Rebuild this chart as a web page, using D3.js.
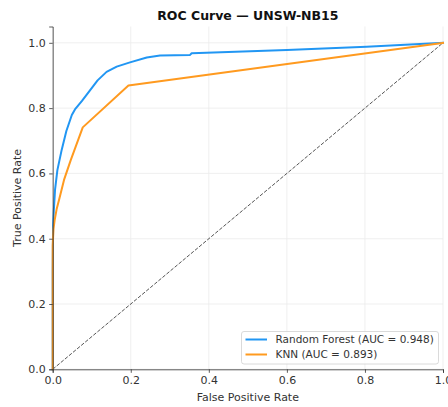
<!DOCTYPE html>
<html><head><meta charset="utf-8">
<script src="https://cdn.jsdelivr.net/npm/d3@7"></script>
<style>body{margin:0;background:#fff}svg{display:block}</style>
</head><body>
<script>
const title = "ROC Curve — UNSW-NB15";
const xLabel = "False Positive Rate";
const yLabel = "True Positive Rate";
const ticks = [0, 0.2, 0.4, 0.6, 0.8, 1.0];
const seriesNames = ["Random Forest (AUC = 0.948)", "KNN (AUC = 0.893)"];
const seriesColors = ["#2196F3", "#FF9A1F"];
const rfFpr = [0, 0, 0.001, 0.003, 0.006, 0.012, 0.023, 0.035, 0.049, 0.057, 0.075, 0.096, 0.115, 0.138, 0.164, 0.198, 0.241, 0.275, 0.352, 0.356, 0.6, 0.804, 1];
const rfTpr = [0, 0.3, 0.44, 0.49, 0.55, 0.61, 0.672, 0.73, 0.779, 0.796, 0.822, 0.855, 0.885, 0.911, 0.927, 0.94, 0.955, 0.961, 0.963, 0.968, 0.978, 0.988, 1];
const knnFpr = [0, 0, 0.002, 0.005, 0.01, 0.016, 0.029, 0.046, 0.077, 0.194, 1];
const knnTpr = [0, 0.38, 0.43, 0.457, 0.49, 0.518, 0.58, 0.64, 0.741, 0.869, 1];

const W = 448, H = 407;
const m = {l: 52.7, r: 5, t: 26.5, b: 37.7};
const svg = d3.select("body").append("svg").attr("width", W).attr("height", H)
  .style("font-family", "DejaVu Sans, sans-serif");
const x = d3.scaleLinear().domain([0, 1]).range([m.l, W - m.r]);
const y = d3.scaleLinear().domain([0, 1.05]).range([H - m.b, m.t]);

// grid
const g = svg.append("g");
g.selectAll(".gx").data(ticks).join("line")
  .attr("x1", d => x(d)).attr("x2", d => x(d)).attr("y1", y(0)).attr("y2", y(1.05))
  .attr("stroke", "#ebebeb").attr("stroke-width", 0.8);
g.selectAll(".gy").data(ticks).join("line")
  .attr("y1", d => y(d)).attr("y2", d => y(d)).attr("x1", x(0)).attr("x2", x(1))
  .attr("stroke", "#ebebeb").attr("stroke-width", 0.8);

// diagonal
svg.append("line").attr("x1", x(0)).attr("y1", y(0)).attr("x2", x(1)).attr("y2", y(1))
  .attr("stroke", "#555").attr("stroke-width", 1).attr("stroke-dasharray", "3.7,1.6");

const line = d3.line().x(d => x(d[0])).y(d => y(d[1]));
const series = [d3.zip(rfFpr, rfTpr), d3.zip(knnFpr, knnTpr)];
series.forEach((s, i) => {
  svg.append("path").datum(s).attr("d", line).attr("fill", "none")
    .attr("stroke", seriesColors[i]).attr("stroke-width", 2)
    .attr("stroke-linejoin", "round").attr("stroke-linecap", "square");
});

// axes
const fmt = d3.format(".1f");
const xa = svg.append("g").attr("transform", `translate(0,${y(0)})`)
  .call(d3.axisBottom(x).tickValues(ticks).tickFormat(fmt).tickSize(3.5).tickPadding(3.5));
const ya = svg.append("g").attr("transform", `translate(${x(0)},0)`)
  .call(d3.axisLeft(y).tickValues(ticks).tickFormat(fmt).tickSize(3.5).tickPadding(3.5));
[xa, ya].forEach(a => {
  a.selectAll("text").attr("fill", "#333").style("font-size", "11px").style("font-family", "DejaVu Sans");
  a.selectAll("line").attr("stroke", "#333").attr("stroke-width", 0.8);
  a.select(".domain").attr("stroke", "#333").attr("stroke-width", 0.8);
});

// labels
svg.append("text").attr("x", (x(0) + x(1)) / 2).attr("y", 401).attr("text-anchor", "middle")
  .style("font-size", "11px").attr("fill", "#333").text(xLabel);
svg.append("text").attr("transform", `translate(21,${(y(0) + y(1.05)) / 2}) rotate(-90)`)
  .attr("text-anchor", "middle").style("font-size", "11px").attr("fill", "#333").text(yLabel);
svg.append("text").attr("x", (x(0) + x(1)) / 2).attr("y", 20).attr("text-anchor", "middle")
  .style("font-size", "12.5px").style("font-weight", "bold").attr("fill", "#111").text(title);

// legend
const lg = svg.append("g");
lg.append("rect").attr("x", 241.5).attr("y", 331.5).attr("width", 197).attr("height", 32.5)
  .attr("rx", 2.5).attr("fill", "#fff").attr("fill-opacity", 0.8).attr("stroke", "#d0d0d0").attr("stroke-width", 0.8);
seriesNames.forEach((n, i) => {
  const yy = 339.5 + i * 15;
  lg.append("line").attr("x1", 245.5).attr("x2", 267).attr("y1", yy).attr("y2", yy)
    .attr("stroke", seriesColors[i]).attr("stroke-width", 2);
  lg.append("text").attr("x", 275.5).attr("y", yy + 3.8).style("font-size", "10.5px").attr("fill", "#333").text(n);
});
</script>
</body></html>
